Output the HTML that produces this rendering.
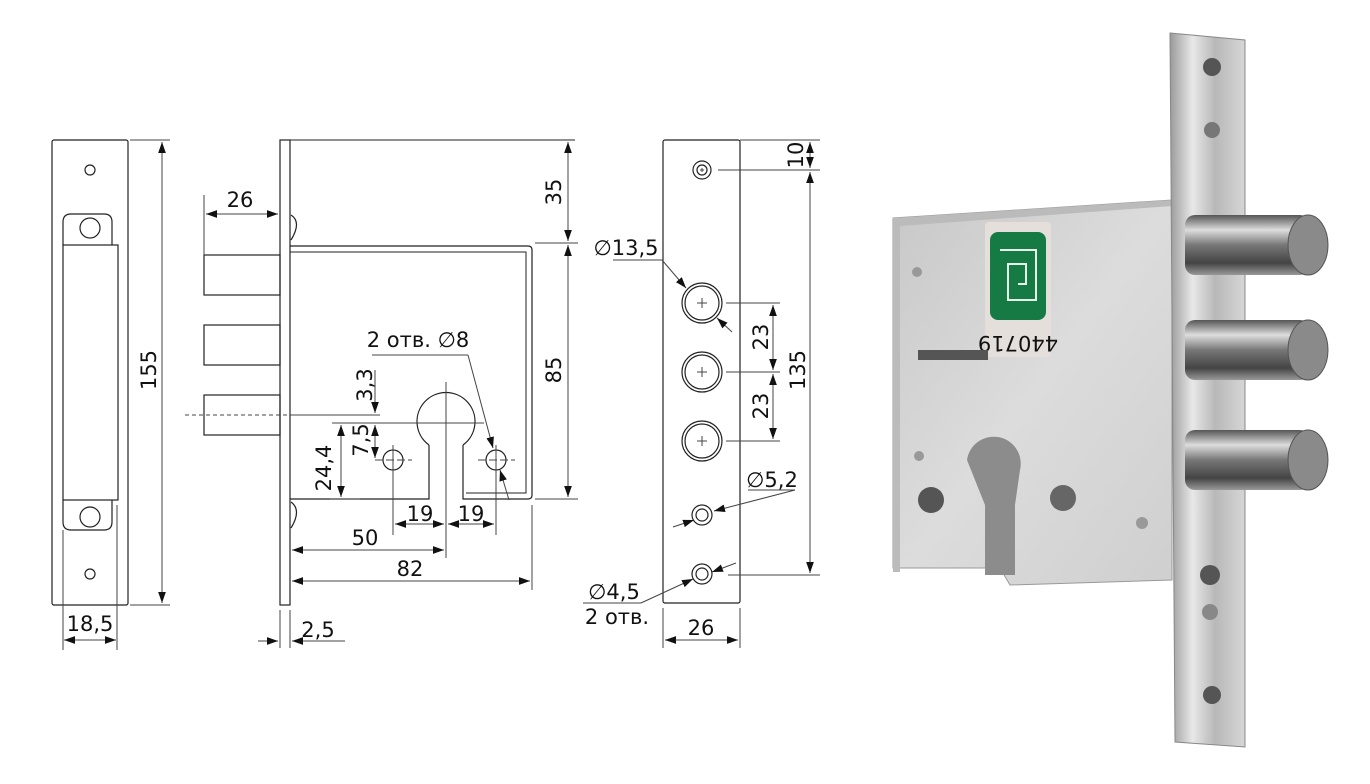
<!DOCTYPE html>
<html><head><meta charset="utf-8"><style>
body{margin:0;background:#fff;width:1370px;height:784px;overflow:hidden}
svg{display:block}
text{font-family:"DejaVu Sans","Liberation Sans",sans-serif;font-size:21px;fill:#111}
</style></head><body>
<svg width="1370" height="784" viewBox="0 0 1370 784" xmlns="http://www.w3.org/2000/svg">
<defs>
<marker id="a" viewBox="0 0 10 10" refX="10" refY="5" markerWidth="11" markerHeight="11" orient="auto-start-reverse" markerUnits="userSpaceOnUse"><path d="M0,1.5 L10,5 L0,8.5z" fill="#111"/></marker>
<linearGradient id="steel" x1="0" x2="1"><stop offset="0" stop-color="#9a9a9a"/><stop offset=".3" stop-color="#e8e8e8"/><stop offset=".6" stop-color="#b8b8b8"/><stop offset="1" stop-color="#d6d6d6"/></linearGradient>
<linearGradient id="bolt" x1="0" y1="0" x2="0" y2="1"><stop offset="0" stop-color="#555"/><stop offset=".25" stop-color="#ddd"/><stop offset=".5" stop-color="#777"/><stop offset=".8" stop-color="#444"/><stop offset="1" stop-color="#999"/></linearGradient>
<linearGradient id="case" x1="0" y1="0" x2="1" y2="1"><stop offset="0" stop-color="#c8c8c8"/><stop offset=".5" stop-color="#dcdcdc"/><stop offset="1" stop-color="#cfcfcf"/></linearGradient>
</defs>
<g fill="none" stroke="#222" stroke-width="1.2">
<rect x="52" y="140" width="76" height="465" rx="2"/>
<path d="M63,245 V222 Q63,214 71,214 H104 Q112,214 112,222 V245"/>
<rect x="63" y="245" width="55" height="255"/>
<path d="M63,500 V522 Q63,530 71,530 H104 Q112,530 112,522 V500"/>
<circle cx="90" cy="170" r="5"/><circle cx="90" cy="228" r="10"/><circle cx="90" cy="517" r="10"/><circle cx="90" cy="574" r="5"/>
<g stroke-width="1" stroke="#444">
<line x1="130" y1="140" x2="170" y2="140"/><line x1="130" y1="605" x2="170" y2="605"/>
<line x1="162" y1="142" x2="162" y2="603" marker-start="url(#a)" marker-end="url(#a)"/>
<line x1="63" y1="530" x2="63" y2="650"/><line x1="117" y1="505" x2="117" y2="650"/>
<line x1="64" y1="640" x2="116" y2="640" marker-start="url(#a)" marker-end="url(#a)"/>
</g>
<rect x="280" y="140" width="10" height="465"/>
<line x1="290" y1="140" x2="575" y2="140" stroke-width="1"/>
<path d="M290,246 H528 Q532,246 532,250 V495 Q532,499 528,499 H463 V445"/>
<path d="M290,252 H526 V493 H466" stroke-width="1"/>
<path d="M290,499 H429 V445"/>
<path d="M429,445 A29,29 0 1 1 463,445"/>
<rect x="204" y="255" width="76" height="40"/>
<rect x="204" y="325" width="76" height="40"/>
<rect x="204" y="395" width="76" height="40"/>
<path d="M291,215 Q302,222 291,240" /><path d="M291,502 Q302,510 291,528"/>
<circle cx="393" cy="460" r="10"/><circle cx="496" cy="460" r="10"/>
<g stroke-width="1" stroke="#444">
<line x1="185" y1="415" x2="290" y2="415" stroke-dasharray="4,3"/>
<line x1="290" y1="415" x2="380" y2="415"/>
<line x1="332" y1="423" x2="484" y2="423"/>
<line x1="375" y1="460" x2="412" y2="460" stroke-dasharray="8,3"/><line x1="393" y1="445" x2="393" y2="535"/>
<line x1="478" y1="460" x2="515" y2="460" stroke-dasharray="8,3"/><line x1="496" y1="445" x2="496" y2="535"/>
<line x1="446" y1="382" x2="446" y2="558"/>
<line x1="375" y1="370" x2="375" y2="413" marker-end="url(#a)"/>
<line x1="375" y1="425" x2="375" y2="458" marker-start="url(#a)" marker-end="url(#a)"/>
<line x1="341" y1="425" x2="341" y2="497" marker-start="url(#a)" marker-end="url(#a)"/>
<line x1="330" y1="499" x2="360" y2="499"/>
<line x1="395" y1="524" x2="444" y2="524" marker-start="url(#a)" marker-end="url(#a)"/>
<line x1="448" y1="524" x2="494" y2="524" marker-start="url(#a)" marker-end="url(#a)"/>
<line x1="292" y1="550" x2="444" y2="550" marker-start="url(#a)" marker-end="url(#a)"/>
<line x1="532" y1="505" x2="532" y2="590"/>
<line x1="292" y1="581" x2="530" y2="581" marker-start="url(#a)" marker-end="url(#a)"/>
<line x1="204" y1="195" x2="204" y2="255"/>
<line x1="206" y1="214" x2="278" y2="214" marker-start="url(#a)" marker-end="url(#a)"/>
<line x1="372" y1="355" x2="468" y2="355"/><line x1="468" y1="355" x2="493" y2="448" marker-end="url(#a)"/>
<line x1="509" y1="500" x2="500" y2="470" marker-end="url(#a)"/>
<line x1="280" y1="610" x2="280" y2="648"/><line x1="290" y1="610" x2="290" y2="648"/>
<line x1="258" y1="641" x2="278" y2="641" marker-end="url(#a)"/>
<line x1="345" y1="641" x2="292" y2="641" marker-end="url(#a)"/>
<line x1="535" y1="243" x2="578" y2="243"/><line x1="535" y1="499" x2="578" y2="499"/>
<line x1="568" y1="142" x2="568" y2="241" marker-start="url(#a)" marker-end="url(#a)"/>
<line x1="568" y1="245" x2="568" y2="497" marker-start="url(#a)" marker-end="url(#a)"/>
</g>
<rect x="663" y="140" width="77" height="463" rx="2"/>
<circle cx="702" cy="170" r="9"/><circle cx="702" cy="170" r="5"/>
<circle cx="702" cy="303" r="20"/><circle cx="702" cy="303" r="17"/>
<circle cx="702" cy="372" r="20"/><circle cx="702" cy="372" r="17"/>
<circle cx="702" cy="441" r="20"/><circle cx="702" cy="441" r="17"/>
<circle cx="702" cy="515" r="10"/><circle cx="702" cy="515" r="6"/>
<circle cx="702" cy="574" r="10"/><circle cx="702" cy="574" r="6"/>
<g stroke-width="1" stroke="#444">
<path d="M697,303 h10 M702,298 v10 M697,372 h10 M702,367 v10 M697,441 h10 M702,436 v10 M700,170 h4 M702,168 v4"/>
<line x1="740" y1="140" x2="820" y2="140"/><line x1="718" y1="170" x2="820" y2="170"/>
<line x1="726" y1="303" x2="780" y2="303"/><line x1="726" y1="372" x2="780" y2="372"/><line x1="726" y1="441" x2="780" y2="441"/>
<line x1="728" y1="575" x2="820" y2="575"/>
<line x1="810" y1="142" x2="810" y2="168" marker-start="url(#a)" marker-end="url(#a)"/>
<line x1="810" y1="172" x2="810" y2="573" marker-start="url(#a)" marker-end="url(#a)"/>
<line x1="773" y1="305" x2="773" y2="370" marker-start="url(#a)" marker-end="url(#a)"/>
<line x1="773" y1="374" x2="773" y2="439" marker-start="url(#a)" marker-end="url(#a)"/>
<line x1="613" y1="260" x2="662" y2="260"/><line x1="662" y1="260" x2="686" y2="288" marker-end="url(#a)"/>
<line x1="732" y1="332" x2="717" y2="318" marker-end="url(#a)"/>
<line x1="673" y1="527" x2="694" y2="520" marker-end="url(#a)"/>
<line x1="795" y1="490" x2="714" y2="511" marker-end="url(#a)"/>
<line x1="748" y1="490" x2="795" y2="490"/>
<line x1="583" y1="603" x2="641" y2="603"/><line x1="641" y1="603" x2="693" y2="579" marker-end="url(#a)"/>
<line x1="736" y1="563" x2="712" y2="572" marker-end="url(#a)"/>
<line x1="663" y1="608" x2="663" y2="648"/><line x1="740" y1="608" x2="740" y2="648"/>
<line x1="665" y1="640" x2="738" y2="640" marker-start="url(#a)" marker-end="url(#a)"/>
</g>
</g>
<text x="148" y="370" text-anchor="middle" transform="rotate(-90 148 370)" dy="8">155</text>
<text x="90" y="631" text-anchor="middle">18,5</text>
<text x="240" y="207" text-anchor="middle">26</text>
<text x="418" y="347" text-anchor="middle">2 отв. ∅8</text>
<text x="364" y="385" text-anchor="middle" transform="rotate(-90 364 385)" dy="8">3,3</text>
<text x="360" y="440" text-anchor="middle" transform="rotate(-90 360 440)" dy="8">7,5</text>
<text x="323" y="468" text-anchor="middle" transform="rotate(-90 323 468)" dy="8">24,4</text>
<text x="420" y="521" text-anchor="middle">19</text>
<text x="471" y="521" text-anchor="middle">19</text>
<text x="365" y="545" text-anchor="middle">50</text>
<text x="410" y="576" text-anchor="middle">82</text>
<text x="318" y="637" text-anchor="middle">2,5</text>
<text x="553" y="192" text-anchor="middle" transform="rotate(-90 553 192)" dy="8">35</text>
<text x="553" y="370" text-anchor="middle" transform="rotate(-90 553 370)" dy="8">85</text>
<text x="626" y="255" text-anchor="middle">∅13,5</text>
<text x="760" y="337" text-anchor="middle" transform="rotate(-90 760 337)" dy="8">23</text>
<text x="760" y="406" text-anchor="middle" transform="rotate(-90 760 406)" dy="8">23</text>
<text x="796" y="155" text-anchor="middle" transform="rotate(-90 796 155)" dy="7" font-size="19">10</text>
<text x="797" y="370" text-anchor="middle" transform="rotate(-90 797 370)" dy="8">135</text>
<text x="772" y="487" text-anchor="middle">∅5,2</text>
<text x="614" y="599" text-anchor="middle">∅4,5</text>
<text x="617" y="624" text-anchor="middle">2 отв.</text>
<text x="701" y="635" text-anchor="middle">26</text>
<path d="M893,218 L1172,200 V580 L1010,585 L1000,568 H893 Z" fill="url(#case)" stroke="#999"/>
<path d="M893,218 L1172,200 V206 L900,226 V572 H893Z" fill="#bbb"/>
<rect x="985" y="222" width="66" height="135" rx="4" fill="#e5dfdc"/>
<rect x="990" y="232" width="56" height="88" rx="8" fill="#167a44"/>
<path d="M1000,250 h36 v50 h-28 v-36 h18 v20 h-8" fill="none" stroke="#e8f0ea" stroke-width="2"/>
<text x="1018" y="346" text-anchor="middle" font-size="15" fill="#333" transform="rotate(180 1018 341)">440719</text>
<rect x="918" y="350" width="70" height="10" fill="#555"/>
<path d="M967,460 A27,27 0 1 1 1020,470 L1015,505 V575 H985 V505 Z" fill="#8c8c8c"/>
<circle cx="931" cy="500" r="13" fill="#555"/><circle cx="1063" cy="498" r="13" fill="#666"/>
<circle cx="917" cy="272" r="5" fill="#999"/><circle cx="919" cy="456" r="5" fill="#999"/><circle cx="1142" cy="523" r="6" fill="#999"/>
<path d="M1170,33 L1245,40 V747 L1175,742 Z" fill="url(#steel)" stroke="#888"/>
<circle cx="1212" cy="67" r="9" fill="#555"/><circle cx="1212" cy="130" r="8" fill="#777"/>
<circle cx="1210" cy="575" r="10" fill="#555"/><circle cx="1210" cy="612" r="8" fill="#888"/><circle cx="1212" cy="695" r="9" fill="#555"/>
<rect x="1185" y="215" width="125" height="60" rx="10" fill="url(#bolt)"/><ellipse cx="1308" cy="245" rx="20" ry="30" fill="#8a8a8a" stroke="#555"/>
<rect x="1185" y="320" width="125" height="60" rx="10" fill="url(#bolt)"/><ellipse cx="1308" cy="350" rx="20" ry="30" fill="#8a8a8a" stroke="#555"/>
<rect x="1185" y="430" width="125" height="60" rx="10" fill="url(#bolt)"/><ellipse cx="1308" cy="460" rx="20" ry="30" fill="#8a8a8a" stroke="#555"/>
</svg>
</body></html>
